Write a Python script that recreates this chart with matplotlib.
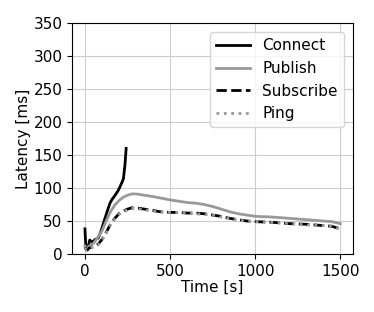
import matplotlib
matplotlib.use('Agg')
import matplotlib.pyplot as plt

# connect measurements stop early
t_connect = [0, 5, 15, 28, 45, 60, 78, 95, 115, 130, 147, 160, 177, 195, 215, 226, 235, 242]
connect = [38, 12, 6, 21, 18, 22, 24, 35, 52, 64, 77, 83, 89, 96, 107, 114, 135, 160]

t = [0, 10, 25, 50, 78, 100, 125, 150, 175, 200, 225, 250, 275, 300, 325, 350, 400,
     440, 500, 550, 600, 650, 700, 750, 800, 850, 900, 950, 1000, 1100, 1200, 1300,
     1400, 1450, 1500]
publish = [12, 8, 12, 16, 26, 35, 50, 64, 74, 81, 86, 89, 91, 91, 90, 89, 87,
           85, 82, 80, 78, 77, 75, 72, 68, 64, 61, 59, 57, 56, 54, 52,
           50, 49, 46]
subscribe = [10, 6, 9, 11, 15, 22, 33, 45, 54, 61, 65, 68, 70, 70, 69, 68, 66,
             64, 63, 63, 62, 62, 61, 59, 57, 54, 52, 50, 49, 48, 46, 45,
             43, 42, 38]
ping = [9, 6, 9, 11, 14, 21, 32, 44, 53, 60, 64, 67, 69, 69, 68, 67, 65,
        64, 63, 63, 62, 61, 60, 59, 56, 54, 51, 50, 49, 48, 46, 44,
        43, 42, 38]

fig = plt.figure(figsize=(3.74, 3.12), dpi=100)
ax = fig.add_axes([0.193, 0.186, 0.751, 0.74])

ax.plot(t_connect, connect, color='black', lw=2, label='Connect')
ax.plot(t, publish, color='0.6', lw=2, label='Publish')
ax.plot(t, subscribe, color='black', lw=2, ls='--', label='Subscribe')
ax.plot(t, ping, color='0.6', lw=2, ls=':', label='Ping')

ax.set_xlim(-75, 1575)
ax.set_ylim(0, 350)
ax.set_xticks([0, 500, 1000, 1500])
ax.set_yticks(range(0, 351, 50))
ax.grid(True, color='0.8', lw=0.8)
ax.set_axisbelow(True)
ax.tick_params(labelsize=11)
ax.set_xlabel('Time [s]', fontsize=11, labelpad=1)
ax.set_ylabel('Latency [ms]', fontsize=11, labelpad=2)
ax.legend(loc='upper right', fontsize=11, handlelength=2.2, borderaxespad=0.6)

fig.savefig('out.png', dpi=100)
